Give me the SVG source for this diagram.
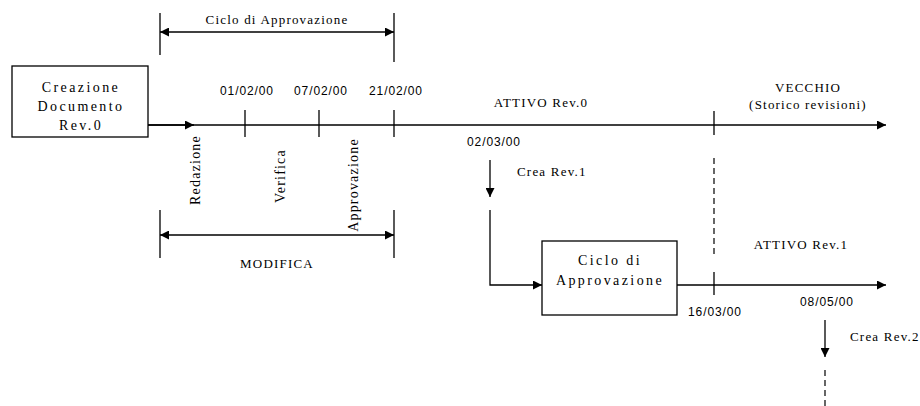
<svg xmlns="http://www.w3.org/2000/svg" width="920" height="406" viewBox="0 0 920 406">
<style>
.ln{stroke:#000;stroke-width:1.3;fill:none}
.dash{stroke:#000;stroke-width:1.2;fill:none;stroke-dasharray:6,4}
.box{fill:#fff;stroke:#000;stroke-width:1.3}
.serif{font-family:"Liberation Serif","Times New Roman",serif;font-size:13px;fill:#000;letter-spacing:1.2px}
.rot{font-family:"Liberation Serif","Times New Roman",serif;font-size:14px;fill:#000;letter-spacing:1.2px}
.boxt{font-family:"Liberation Serif","Times New Roman",serif;font-size:14px;fill:#000;letter-spacing:2.4px}
.date{font-family:"Liberation Sans",Arial,sans-serif;font-size:12px;fill:#000;letter-spacing:0.9px}
</style>
<defs>
<marker id="ah" viewBox="0 0 10 10" refX="10" refY="5" markerWidth="10" markerHeight="9" markerUnits="userSpaceOnUse" orient="auto-start-reverse">
<path d="M0,0 L10,5 L0,10 z" fill="#000"/>
</marker>
</defs>
<g id="connectors">
<line class="ln" x1="148" y1="125" x2="886" y2="125" marker-end="url(#ah)"/>
<line class="ln" x1="148" y1="125" x2="194" y2="125" marker-end="url(#ah)"/>
<line class="ln" x1="245" y1="110" x2="245" y2="137"/>
<line class="ln" x1="319" y1="110" x2="319" y2="137"/>
<line class="ln" x1="394" y1="110" x2="394" y2="137"/>
<line class="ln" x1="394" y1="13" x2="394" y2="62"/>
<line class="ln" x1="714" y1="111" x2="714" y2="135"/>
<line class="ln" x1="160" y1="13" x2="160" y2="55"/>
<line class="ln" x1="160" y1="32" x2="394" y2="32" marker-start="url(#ah)" marker-end="url(#ah)"/>
<line class="ln" x1="160" y1="210" x2="160" y2="258"/>
<line class="ln" x1="394" y1="210" x2="394" y2="258"/>
<line class="ln" x1="160" y1="235" x2="394" y2="235" marker-start="url(#ah)" marker-end="url(#ah)"/>
<line class="ln" x1="490" y1="160" x2="490" y2="197" marker-end="url(#ah)"/>
<polyline class="ln" points="490,210 490,285 542,285" marker-end="url(#ah)"/>
<line class="dash" x1="714" y1="158" x2="714" y2="258"/>
<line class="ln" x1="677" y1="285" x2="886" y2="285" marker-end="url(#ah)"/>
<line class="ln" x1="714" y1="272" x2="714" y2="295"/>
<line class="ln" x1="825" y1="320" x2="825" y2="357" marker-end="url(#ah)"/>
<line class="dash" x1="825" y1="370" x2="825" y2="406"/>
</g>
<g id="creazione">
<rect class="box" x="12" y="66" width="136" height="71"/>
<text class="boxt" x="81" y="92" text-anchor="middle">Creazione</text>
<text class="boxt" x="81" y="111" text-anchor="middle">Documento</text>
<text class="boxt" x="81" y="130" text-anchor="middle">Rev.0</text>
</g>
<g id="ciclo2">
<rect class="box" x="542" y="241" width="135" height="74"/>
<text class="boxt" x="610" y="265" text-anchor="middle">Ciclo di</text>
<text class="boxt" x="610" y="285" text-anchor="middle">Approvazione</text>
</g>
<g id="labels">
<text class="serif" x="277" y="24" text-anchor="middle">Ciclo di Approvazione</text>
<text class="date" x="247" y="95" text-anchor="middle">01/02/00</text>
<text class="date" x="321" y="95" text-anchor="middle">07/02/00</text>
<text class="date" x="396" y="95" text-anchor="middle">21/02/00</text>
<text class="serif" x="541" y="107" text-anchor="middle">ATTIVO Rev.0</text>
<text class="serif" x="808" y="92" text-anchor="middle">VECCHIO</text>
<text class="serif" x="808" y="109" text-anchor="middle">(Storico revisioni)</text>
<text class="date" x="494" y="146" text-anchor="middle">02/03/00</text>
<text class="serif" x="517" y="176">Crea Rev.1</text>
<text class="rot" transform="translate(200,170) rotate(-90)" text-anchor="middle">Redazione</text>
<text class="rot" transform="translate(285,176) rotate(-90)" text-anchor="middle">Verifica</text>
<text class="rot" transform="translate(358,185) rotate(-90)" text-anchor="middle">Approvazione</text>
<text class="serif" x="277" y="268" text-anchor="middle">MODIFICA</text>
<text class="serif" x="801" y="249" text-anchor="middle">ATTIVO Rev.1</text>
<text class="date" x="715" y="316" text-anchor="middle">16/03/00</text>
<text class="date" x="827" y="306" text-anchor="middle">08/05/00</text>
<text class="serif" x="850" y="341">Crea Rev.2</text>
</g>
</svg>
